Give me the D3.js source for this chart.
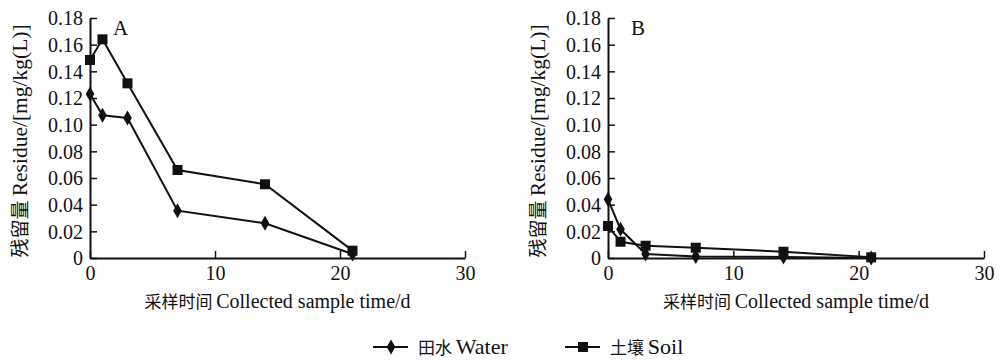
<!DOCTYPE html>
<html>
<head>
<meta charset="utf-8">
<script src="https://cdn.jsdelivr.net/npm/d3@7"></script>
<style>
  body { margin: 0; background: #fff; }
  text { font-family: "Liberation Serif", "Times New Roman", serif; fill: #111; }
  .cjk { font-family: "Noto Sans CJK SC", sans-serif; }
</style>
</head>
<body>
<script>
// sampling days
const days = [0, 1, 3, 7, 14, 21];

// panel A residues
const waterA = [0.123, 0.107, 0.105, 0.0355, 0.026, 0.003];
const soilA  = [0.1485, 0.164, 0.131, 0.066, 0.0553, 0.0055];

// panel B residues
const waterB = [0.044, 0.0215, 0.003, 0.0012, 0.0008, 0.0];
const soilB  = [0.024, 0.0122, 0.0092, 0.0077, 0.0047, 0.0005];

const yTicks = [0, 0.02, 0.04, 0.06, 0.08, 0.10, 0.12, 0.14, 0.16, 0.18];
const xTicks = [0, 10, 20, 30];

const panels = [
  {name: "A", left: 90, right: 465, water: waterA, soil: soilA},
  {name: "B", left: 608, right: 984, water: waterB, soil: soilB}
];

const plotTop = 18, plotBottom = 258;

const svg = d3.select("body").append("svg")
  .attr("width", 1001)
  .attr("height", 360);

const y = d3.scaleLinear().domain([0, 0.18]).range([plotBottom, plotTop]);

const diamond = d3.symbol().type(d3.symbolDiamond).size(65);
const square = d3.symbol().type(d3.symbolSquare).size(100);

panels.forEach(function(p) {
  const x = d3.scaleLinear().domain([0, 30]).range([p.left, p.right]);
  const g = svg.append("g");

  // y axis with inward ticks
  const yAxis = g.append("g")
    .attr("transform", `translate(${p.left},0)`)
    .call(d3.axisRight(y).tickValues(yTicks).tickSize(7).tickSizeOuter(0)
      .tickFormat(d => d === 0 ? "0" : d3.format(".2f")(d)));
  yAxis.select(".domain").attr("stroke", "#111").attr("stroke-width", 2);
  yAxis.selectAll(".tick line").attr("stroke", "#111").attr("stroke-width", 1.5);
  yAxis.selectAll(".tick text")
    .attr("x", -7)
    .attr("dy", "0.34em")
    .attr("text-anchor", "end")
    .style("font-size", "20px")
    .style("font-family", "Liberation Serif, serif");

  // x axis with inward ticks
  const xAxis = g.append("g")
    .attr("transform", `translate(0,${plotBottom})`)
    .call(d3.axisTop(x).tickValues(xTicks).tickSize(7).tickSizeOuter(0));
  xAxis.select(".domain").attr("stroke", "#111").attr("stroke-width", 2);
  xAxis.selectAll(".tick line").attr("stroke", "#111").attr("stroke-width", 1.5);
  xAxis.selectAll(".tick text")
    .attr("y", 22)
    .attr("dy", 0)
    .style("font-size", "20px")
    .style("font-family", "Liberation Serif, serif");

  // series
  const line = d3.line()
    .x((d, i) => x(days[i]))
    .y(d => y(d));

  [["water", diamond], ["soil", square]].forEach(function(s) {
    const vals = p[s[0]];
    g.append("path")
      .datum(vals)
      .attr("d", line)
      .attr("fill", "none")
      .attr("stroke", "#111")
      .attr("stroke-width", 2);
    g.selectAll(".m-" + s[0])
      .data(vals)
      .enter()
      .append("path")
      .attr("class", "m-" + s[0])
      .attr("d", s[1])
      .attr("transform", (d, i) => `translate(${x(days[i])},${y(d)})`)
      .attr("fill", "#111");
  });

  // panel letter
  g.append("text")
    .attr("x", p.left + 23)
    .attr("y", 35)
    .style("font-size", "21px")
    .text(p.name);

  // y label
  const yl = g.append("text")
    .attr("transform", `translate(${p.left - 63},${(plotTop + plotBottom) / 2 + 3}) rotate(-90)`)
    .attr("text-anchor", "middle")
    .style("font-size", "21.5px");
  yl.append("tspan").attr("class", "cjk").style("font-size", "19px").text("残留量 ");
  yl.append("tspan").text("Residue/[mg/kg(L)]");

  // x label
  const xl = g.append("text")
    .attr("x", (p.left + p.right) / 2)
    .attr("y", 308)
    .attr("text-anchor", "middle")
    .style("font-size", "20px");
  xl.append("tspan").attr("class", "cjk").style("font-size", "17px").text("采样时间 ");
  xl.append("tspan").text("Collected sample time/d");
});

// legend
const legendItems = [
  {label: "田水", en: "Water", sym: diamond, x: 373},
  {label: "土壤", en: "Soil", sym: square, x: 565}
];
const lg = svg.append("g").attr("transform", "translate(0,347)");
legendItems.forEach(function(d) {
  lg.append("line")
    .attr("x1", d.x).attr("x2", d.x + 35)
    .attr("y1", 0).attr("y2", 0)
    .attr("stroke", "#111").attr("stroke-width", 2);
  lg.append("path")
    .attr("d", d.sym)
    .attr("transform", `translate(${d.x + 18},0)`)
    .attr("fill", "#111");
  const t = lg.append("text")
    .attr("x", d.x + 45)
    .attr("y", 7)
    .style("font-size", "22px");
  t.append("tspan").attr("class", "cjk").style("font-size", "17px").text(d.label + " ");
  t.append("tspan").text(d.en);
});
</script>
</body>
</html>
